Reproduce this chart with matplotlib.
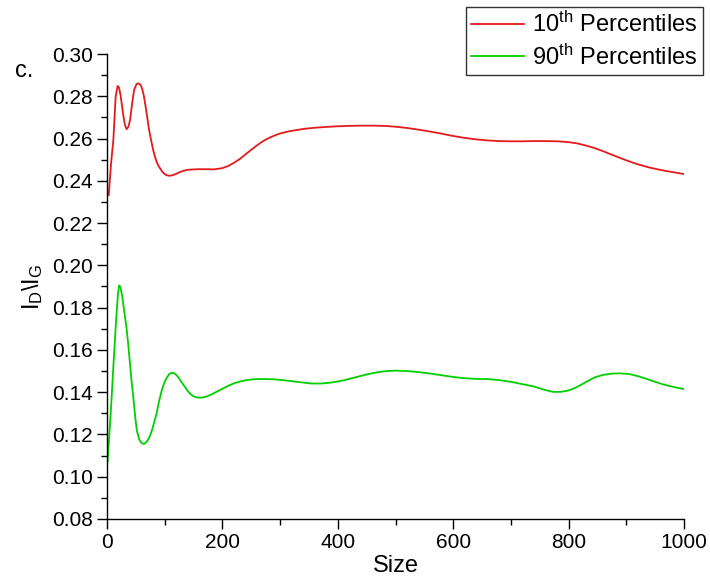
import matplotlib
matplotlib.use("Agg")
import matplotlib.pyplot as plt
from matplotlib.ticker import MultipleLocator

plt.rcParams['font.family'] = ['Liberation Sans', 'DejaVu Sans']
plt.rcParams['mathtext.fontset'] = 'custom'
plt.rcParams['mathtext.rm'] = 'Liberation Sans'
plt.rcParams['mathtext.it'] = 'Liberation Sans'

red_x = [3, 7, 11, 15, 18.5, 21, 23.5, 28, 31, 34, 37, 40, 44, 47, 51, 54, 58, 61, 64, 67, 70,
         73, 77, 80, 83, 86, 89, 92, 96, 100, 104, 107, 111,
         115, 120, 125, 132, 140, 150, 160, 172, 185, 200, 210, 220, 230, 240, 250, 260, 270,
         280, 290, 300, 315, 330, 345, 360, 380, 400, 420, 440, 460, 480,
         500, 520, 540, 560, 580, 600, 620, 640, 660, 680, 700, 720, 740, 760, 780, 800, 815,
         830, 845, 860, 880, 900, 920, 940, 955, 970, 985, 1000]
red_y = [0.2333, 0.248, 0.2593, 0.2798, 0.2849, 0.2840, 0.2805, 0.2715, 0.2665, 0.2644, 0.2655,
         0.2688, 0.2775, 0.2830, 0.2857, 0.2861, 0.2855, 0.2835, 0.2800, 0.2750, 0.2695,
         0.2640, 0.2585, 0.2546, 0.2515, 0.2490, 0.2472, 0.2459, 0.2442, 0.2432, 0.2426, 0.2424, 0.2425,
         0.2428, 0.2433, 0.2440, 0.2447, 0.2452, 0.2454, 0.2455, 0.2455, 0.2454, 0.2460, 0.2470,
         0.2485, 0.2503, 0.2525, 0.2547, 0.2568, 0.2587,
         0.2602, 0.2614, 0.2624, 0.2634, 0.2641, 0.2647, 0.2651, 0.2655, 0.2658, 0.2660, 0.2661,
         0.2661, 0.2660,
         0.2656, 0.2650, 0.2642, 0.2633, 0.2623, 0.2612, 0.2603, 0.2596, 0.2591, 0.2588, 0.2587,
         0.2587, 0.2588, 0.2588, 0.2587, 0.2583, 0.2577,
         0.2567, 0.2555, 0.2540, 0.2518, 0.2497, 0.2478, 0.2463, 0.2454, 0.2446, 0.2439, 0.2432]

green_x = [1, 6, 11, 16, 19, 21, 23, 26, 28.5, 31, 34, 37, 40, 43, 46, 49, 52, 56, 60, 63, 66,
           70, 74, 78, 82, 86, 90, 95, 100, 104, 108, 112, 116, 120,
           125, 130, 135, 140, 146, 152, 158, 164, 172, 180, 190, 200, 210, 220, 230, 240, 250,
           260, 275, 290, 305, 320, 338, 355, 372, 390, 410, 430, 450, 470, 485, 500,
           520, 540, 560, 580, 600, 620, 640, 660, 680, 700, 720, 740, 757, 774, 788, 800,
           815, 830, 845, 860, 875, 889, 905, 920, 935, 950, 965, 980, 990, 1000]
green_y = [0.1071, 0.128, 0.152, 0.175, 0.1865, 0.1905, 0.1900, 0.1860, 0.1810, 0.1760, 0.1700,
           0.1620, 0.1530, 0.1440, 0.1363, 0.1280, 0.1215, 0.1175, 0.1160, 0.1155, 0.1158,
           0.1170, 0.1190, 0.1220, 0.1260, 0.1300, 0.1355, 0.1410, 0.1450, 0.1470, 0.1486, 0.1492,
           0.1490, 0.1482,
           0.1465, 0.1444, 0.1425, 0.1405, 0.1388, 0.1378, 0.1374, 0.1374, 0.1379, 0.1388,
           0.1402, 0.1416, 0.1430, 0.1442, 0.1450, 0.1456, 0.1460,
           0.1462, 0.1462, 0.1461, 0.1457, 0.1452, 0.1446, 0.1441, 0.1441, 0.1446, 0.1456,
           0.1470, 0.1484, 0.1495, 0.1500, 0.1502,
           0.1500, 0.1495, 0.1488, 0.1480, 0.1472, 0.1466, 0.1463, 0.1462, 0.1457, 0.1449,
           0.1438, 0.1427, 0.1412, 0.1401, 0.1402, 0.1408,
           0.1425, 0.1448, 0.1470, 0.1482, 0.1488, 0.1489, 0.1486, 0.1476, 0.1463, 0.1449,
           0.1436, 0.1426, 0.1420, 0.1415]

labels = [r'10$^{\mathregular{th}}$ Percentiles', r'90$^{\mathregular{th}}$ Percentiles']

fig = plt.figure(figsize=(7.1, 5.85), dpi=100)
ax = fig.add_axes([107/710, 66/585, 577/710, 465/585])

ax.plot(red_x, red_y, color='#E31A1C', lw=1.3, label=labels[0])
ax.plot(green_x, green_y, color='#00D000', lw=1.3, label=labels[1])

ax.set_xlim(0, 1000)
ax.set_ylim(0.08, 0.30)
ax.xaxis.set_major_locator(MultipleLocator(200))
ax.xaxis.set_minor_locator(MultipleLocator(100))
ax.yaxis.set_major_locator(MultipleLocator(0.02))
ax.yaxis.set_minor_locator(MultipleLocator(0.01))
ax.yaxis.set_major_formatter(plt.FormatStrFormatter('%.2f'))

for s in ['top', 'right']:
    ax.spines[s].set_visible(False)
for s in ['left', 'bottom']:
    ax.spines[s].set_linewidth(1.0)

ax.tick_params(which='major', direction='out', length=7, width=1.0, labelsize=15, pad=3)
ax.tick_params(which='minor', direction='out', length=4, width=1.0)

ax.set_xlabel('Size', fontsize=17, labelpad=2)
ax.set_ylabel(r'$\mathregular{I_D\backslash I_G}$', fontsize=17, labelpad=5)

fig.text(15/710, 1 - 71/585, 'c.', fontsize=17, va='center', ha='left')

leg = ax.legend(loc='upper right', bbox_to_anchor=(703/710, 1 - 7/585),
                bbox_transform=fig.transFigure, fontsize=17, frameon=True,
                fancybox=False, edgecolor='black', handlelength=2.25,
                borderpad=0.22, labelspacing=0.3, handletextpad=0.35, borderaxespad=0)
leg.get_frame().set_linewidth(1.0)

fig.savefig('out.png', dpi=100)
